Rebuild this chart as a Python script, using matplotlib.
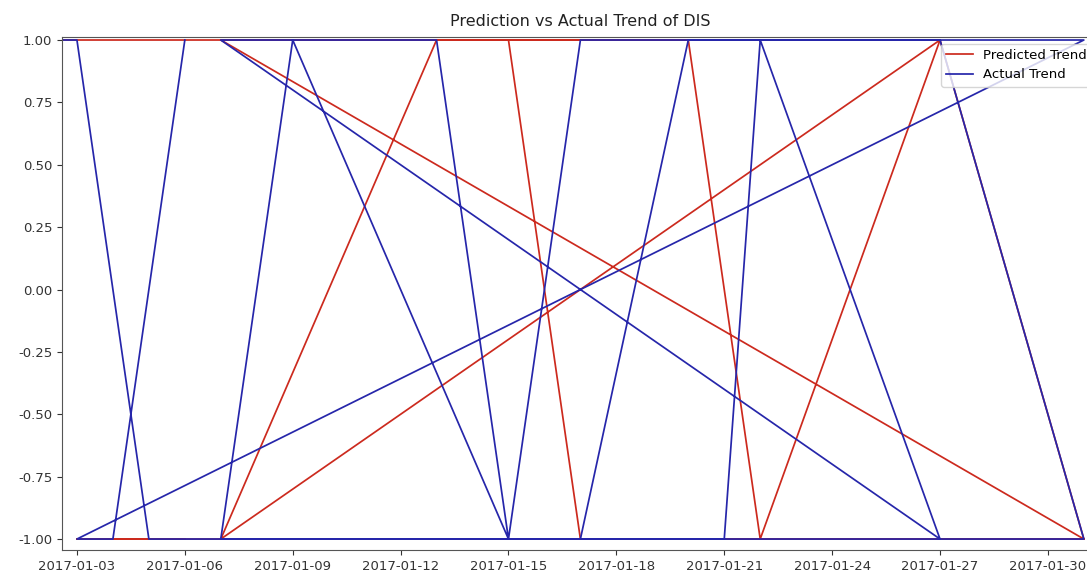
import pandas as pd
import matplotlib
matplotlib.use("Agg")
import matplotlib.pyplot as plt
import matplotlib.dates as mdates

# test-set rows come out shuffled, so the dates are not in order
dates = ['2017-01-02 14:00', '2017-01-03', '2017-01-05', '2017-01-21',
         '2017-01-22', '2017-01-27', '2017-01-31', '2017-01-07',
         '2017-01-09', '2017-01-15', '2017-01-17', '2017-01-20',
         '2017-01-22', '2017-01-27', '2017-01-07', '2017-01-13',
         '2017-01-15', '2017-01-17', '2017-01-31', '2017-01-03',
         '2017-01-04', '2017-01-06']
predicted = [1, 1, 1, 1, 1, 1, -1, 1, 1, 1, 1,
             1, -1, 1, -1, 1, 1, -1, -1, -1, -1, -1]
actual = [1, 1, -1, -1, 1, 1, -1, -1, 1, -1, -1,
          1, 1, -1, 1, 1, -1, 1, 1, -1, -1, 1]
tick_days = [3, 6, 9, 12, 15, 18, 21, 24, 27, 30]

x = pd.to_datetime(dates, format='mixed')

fig = plt.figure(figsize=(10.87, 5.73), dpi=100)
ax = fig.add_axes([0.0570, 0.0401, 0.9539, 0.8953])

ax.plot(x, predicted, color='#cc2a1e', lw=1.25, label='Predicted Trend')
ax.plot(x, actual, color='#2626aa', lw=1.25, label='Actual Trend')

ax.set_xlim(pd.Timestamp('2017-01-02 14:00'), pd.Timestamp('2017-01-31 10:00'))
ax.set_ylim(-1.044, 1.012)
ax.set_yticks([-1, -0.75, -0.5, -0.25, 0, 0.25, 0.5, 0.75, 1])
ax.yaxis.set_major_formatter(matplotlib.ticker.FormatStrFormatter('%.2f'))
ax.xaxis.set_major_locator(mdates.DayLocator(bymonthday=tick_days))
ax.xaxis.set_major_formatter(mdates.DateFormatter('%Y-%m-%d'))
ax.tick_params(labelsize=9.5, colors='#333333')
for side in ['left', 'bottom', 'top', 'right']:
    ax.spines[side].set_color('#555555')

ax.set_title('Prediction vs Actual Trend of DIS', fontsize=11.5, color='#222222', pad=8)
ax.legend(loc='upper right', fontsize=9.5)

fig.savefig('out.png', dpi=100)
